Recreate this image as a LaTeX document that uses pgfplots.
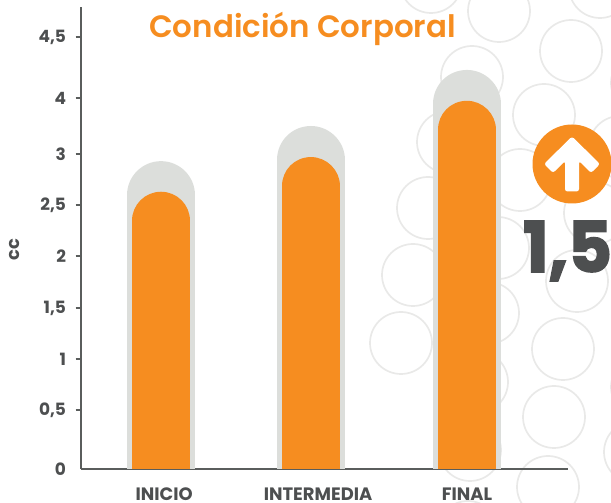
\documentclass[border=0pt]{standalone}
\usepackage{pgfplots}
\pgfplotsset{compat=1.18}
\usepackage{fontspec}
\setmainfont{Poppins}
\newfontfamily\heavy[FakeBold=2.5]{Poppins Bold}
\newfontfamily\semi{Poppins SemiBold}
\definecolor{naranja}{HTML}{F68D20}
\definecolor{gris}{HTML}{DCDEDB}
\definecolor{eje}{HTML}{5A5D5C}
\definecolor{texto}{HTML}{4D4F50}
\definecolor{anillo}{HTML}{E9E9E8}
\begin{document}
\begin{tikzpicture}[x=1bp,y=1bp]
\path[use as bounding box] (0,0) rectangle (611,503);
\begin{scope}
\clip (0,0) rectangle (611,503);
\foreach \a/\b in {431/-18,499/11,600/-13,571/51,472/77,544/115,448/142,620/147,642/83,520/180,428/208,595/213,498/248,413/275,577/281,488/313,401/343,563/349,477/382,642/387,554/417,470/450,635/452,548/487,468/532,638/530}{
  \draw[anillo,line width=1.7bp] (\a,503-\b) circle[radius=31];
}
\end{scope}
\begin{axis}[
  at={(81bp,34bp)},anchor=south west,
  scale only axis,width=487bp,height=462bp,
  xmin=-0.524,xmax=2.664,
  ymin=0,ymax=4.746,
  y coord trafo/.code={\pgfmathparse{#1<=0.5?118*#1:(#1<=1?59+102*(#1-0.5):(#1<=1.5?110+102*(#1-1):(#1<=2?161+104*(#1-1.5):(#1<=2.5?213+102*(#1-2):(#1<=3?264+102*(#1-2.5):(#1<=4?315+56*(#1-3):371+122*(#1-4)))))))}},
  axis lines=left,
  axis line style={eje,line width=1.8bp,-},
  xtick={0.02,1.028,2.003},
  xticklabels={INICIO,INTERMEDIA,FINAL},
  x tick style={draw=none},
  ytick={0.5,1,1.5,2,2.5,3,4,4.5},
  yticklabels={{0,5},1,{1,5},2,{2,5},3,4,{4,5}},
  extra y ticks={0},extra y tick labels={0},
  extra y tick style={y tick style={draw=none}},
  y tick style={eje,line width=1.6bp},
  tick align=outside,major tick length=5.5bp,
  ticklabel style={text=texto,font=\fontsize{17}{17}\selectfont\bfseries},
  x tick label style={font=\fontsize{18}{18}\selectfont\bfseries,text height=13bp,text depth=0pt,inner sep=0pt,yshift=-13bp},
  y tick label style={xshift=-6bp},
  ylabel={cc},
  ylabel style={text=texto,font=\fontsize{18}{18}\selectfont\bfseries,at={(axis description cs:-0.136,0.475)},anchor=center},
  clip=true,
]
\addplot[ycomb,no marks,gris,line width=68bp,line cap=round,yshift=-34bp] coordinates {(0,2.93) (0.979,3.5) (2,4.23)};
\addplot[ycomb,no marks,naranja,line width=58bp,line cap=round,yshift=-29bp] coordinates {(0,2.63) (0.979,2.97) (2,3.95)};
\end{axis}
\node[text=naranja,font=\fontsize{31}{31}\semi,anchor=center] at (302.5,503-29) {Condición Corporal};
\fill[naranja] (572,503-164) circle[radius=39.5];
\fill[white,rounded corners=2.5bp] (572,503-136.5) -- (600,503-164) -- (591,503-173) -- (579,503-161) -- (579,503-191.5) -- (565,503-191.5) -- (565,503-161) -- (553,503-173) -- (544,503-164) -- cycle;
\node[text=texto,font=\fontsize{70}{70}\heavy,anchor=base west,inner sep=0pt] at (523,503-272) {\scalebox{0.97}[1]{1,5}};
\end{tikzpicture}
\end{document}
